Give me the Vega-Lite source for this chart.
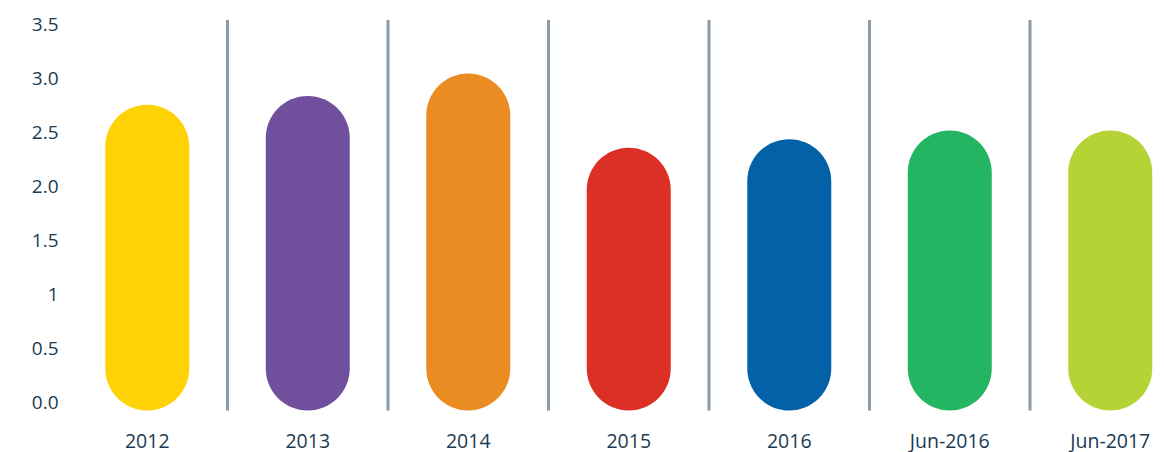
{
  "$schema": "https://vega.github.io/schema/vega-lite/v6.json",
  "autosize": "none",
  "width": 1097,
  "height": 382,
  "padding": {"left": 67, "top": 20, "right": 0, "bottom": 50},
  "background": "white",
  "config": {"view": {"stroke": null}},
  "data": {
    "values": [
      {"cat": "2012", "value": 2.76},
      {"cat": "2013", "value": 2.84},
      {"cat": "2014", "value": 3.05},
      {"cat": "2015", "value": 2.36},
      {"cat": "2016", "value": 2.44},
      {"cat": "Jun-2016", "value": 2.52},
      {"cat": "Jun-2017", "value": 2.52}
    ]
  },
  "encoding": {
    "x": {
      "field": "cat",
      "type": "nominal",
      "sort": null,
      "scale": {
        "domain": ["2012", "2013", "2014", "2015", "2016", "Jun-2016", "Jun-2017"],
        "range": [0, 1123.5],
        "paddingInner": 0,
        "paddingOuter": 0
      },
      "axis": {
        "title": null,
        "domain": false,
        "ticks": false,
        "tickSize": 0,
        "labelAngle": 0,
        "labelPadding": 30,
        "labelFont": "Open Sans",
        "labelFontSize": 19.5,
        "labelColor": "#1c3a52"
      }
    }
  },
  "layer": [
    {
      "transform": [{"filter": "datum.cat !== '2012'"}],
      "mark": {"type": "rule", "color": "#8d9ba6", "strokeWidth": 3, "yOffset": 8.5},
      "encoding": {
        "x": {"field": "cat", "type": "nominal", "sort": null, "bandPosition": 0},
        "y": {"datum": 0, "type": "quantitative"},
        "y2": {"datum": 3.546}
      }
    },
    {
      "mark": {"type": "bar", "width": 84, "cornerRadius": 42, "y2Offset": 8.5},
      "encoding": {
        "y": {
          "field": "value",
          "type": "quantitative",
          "scale": {"domain": [0, 3.546], "nice": false, "zero": true},
          "axis": {
            "title": null,
            "values": [0, 0.5, 1, 1.5, 2, 2.5, 3, 3.5],
            "labelExpr": "datum.value == 1 ? '1' : format(datum.value, '.1f')",
            "domain": false,
            "ticks": false,
            "tickSize": 0,
            "grid": false,
            "labelPadding": 9,
            "labelFont": "Open Sans",
            "labelFontSize": 19,
            "labelColor": "#1c3a52"
          }
        },
        "y2": {"datum": 0},
        "color": {
          "field": "cat",
          "type": "nominal",
          "scale": {
            "domain": ["2012", "2013", "2014", "2015", "2016", "Jun-2016", "Jun-2017"],
            "range": ["#FFD205", "#704F9D", "#EB8C23", "#DC2F26", "#0361A8", "#23B562", "#B5D334"]
          },
          "legend": null
        }
      }
    }
  ]
}
